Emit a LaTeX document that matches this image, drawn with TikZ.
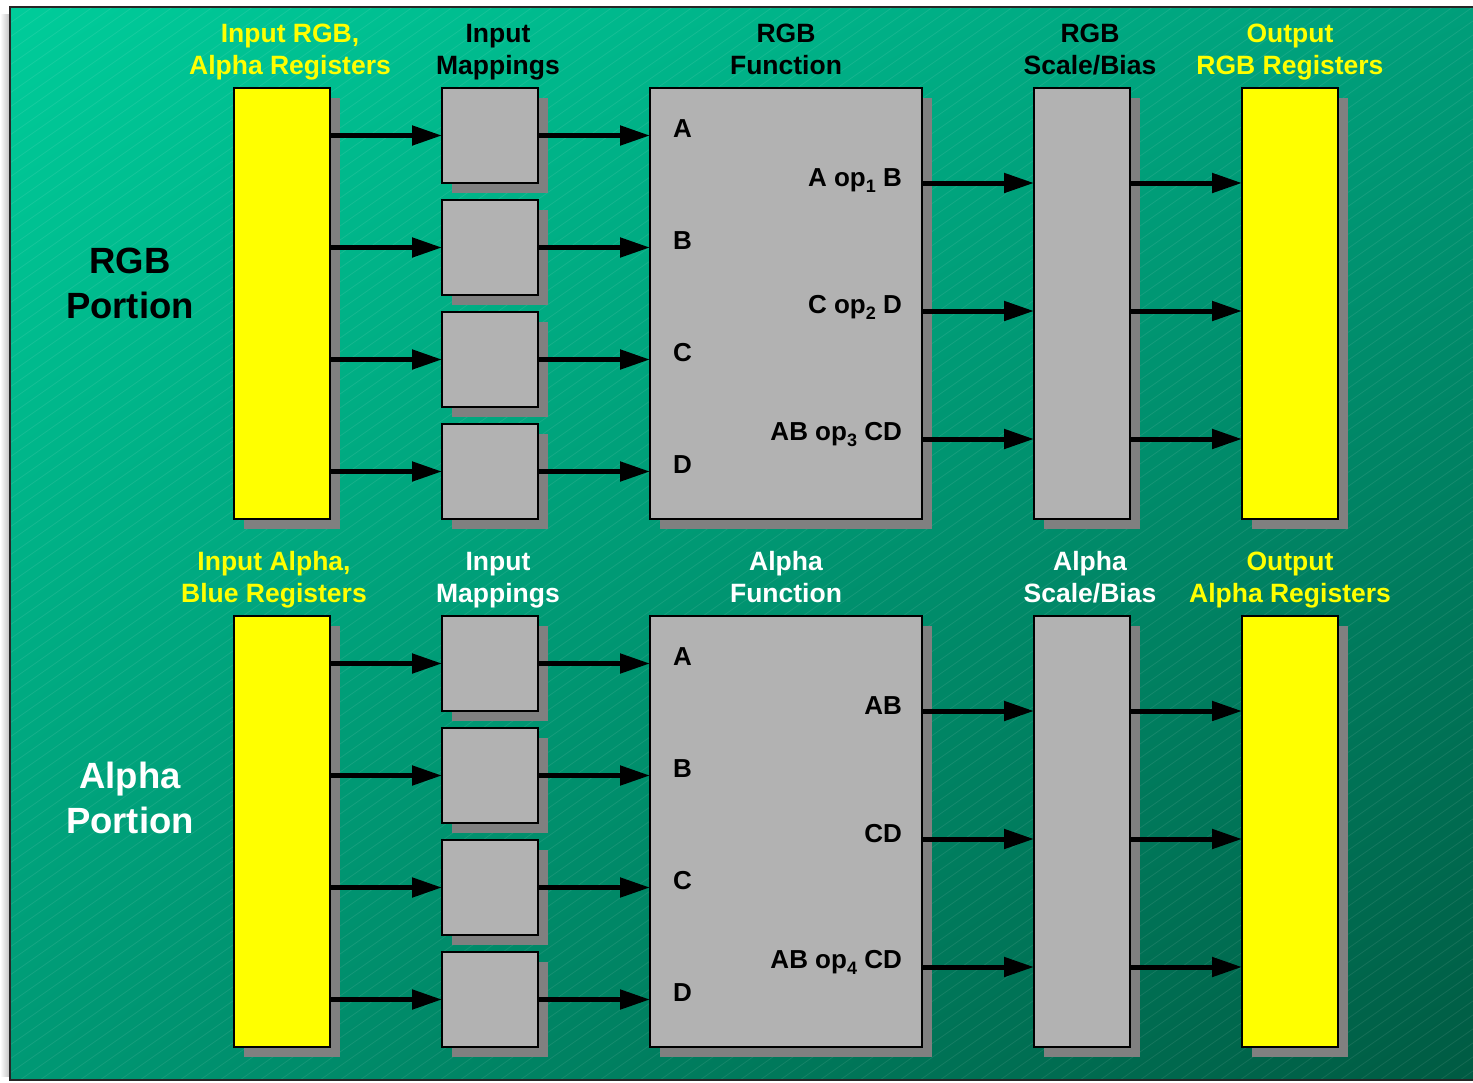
\documentclass[tikz,border=0pt]{standalone}
\usepackage{fontspec}
\setmainfont{Liberation Sans}
\usetikzlibrary{arrows.meta,shadows,shadings}
\definecolor{boxgray}{RGB}{178,178,178}
\definecolor{shgray}{RGB}{128,128,128}
\definecolor{ylw}{RGB}{255,255,0}
\definecolor{gUL}{RGB}{0,204,154}
\definecolor{gUR}{RGB}{0,158,122}
\definecolor{gLL}{RGB}{0,152,116}
\definecolor{gLR}{RGB}{0,90,66}
\newcommand{\hl}{\rule[-7pt]{0pt}{30pt}}
\newcommand{\opsub}[1]{\raisebox{-6pt}{\fontsize{18}{18}\selectfont #1}}
\begin{document}
\begin{tikzpicture}[x=1pt,y=-1pt,
  blk/.style={draw=black,line width=2pt,inner sep=0pt,outer sep=0pt,anchor=north west,
    drop shadow={shadow xshift=10pt,shadow yshift=-10pt,fill=shgray,opacity=1}},
  regbox/.style={blk,fill=ylw,minimum width=96pt,minimum height=431pt},
  mapbox/.style={blk,fill=boxgray,minimum width=96pt,minimum height=95pt},
  funbox/.style={blk,fill=boxgray,minimum width=272pt,minimum height=431pt},
  sclbox/.style={blk,fill=boxgray,minimum width=96pt,minimum height=431pt},
  arr/.style={line width=5pt,-{Triangle[length=30pt,width=19pt]}},
  hdr/.style={align=center,inner sep=0pt,anchor=north,font=\bfseries\fontsize{26.5}{32}\selectfont},
  big/.style={align=center,inner sep=0pt,font=\bfseries\fontsize{36.5}{45}\selectfont},
  inl/.style={inner sep=0pt,font=\bfseries\fontsize{26}{30}\selectfont},
]
\useasboundingbox (0,0) rectangle (1473,1082);
\fill[white] (0,0) rectangle (1473,1082);
\shade[left color=white,right color=gray!55] (0,14) rectangle (11,1076);
\shade[upper left=gUL,upper right=gUR,lower left=gLL,lower right=gLR] (10,7) rectangle (1480,1080);
\begin{scope}
  \clip (10,7) rectangle (1480,1080);
  \foreach \i in {-1600,-1580,...,1480}
    \draw[white,opacity=0.09,line width=0.7pt] (\i,1080) -- ++(1560,-1092);
\end{scope}
\draw[black!85,line width=1.5pt] (10,7) rectangle (1480,1080);

\foreach \s/\dy in {T/0,B/528}{
  \node[regbox] (in\s) at (234,88+\dy) {};
  \node[mapbox] (m\s1) at (442,88+\dy) {};
  \node[mapbox] (m\s2) at (442,200+\dy) {};
  \node[mapbox] (m\s3) at (442,312+\dy) {};
  \node[mapbox] (m\s4) at (442,424+\dy) {};
  \node[funbox] (f\s) at (650,88+\dy) {};
  \node[sclbox] (s\s) at (1034,88+\dy) {};
  \node[regbox] (o\s) at (1242,88+\dy) {};
  \foreach \k in {1,2,3,4}{
    \draw[arr] (in\s.east |- m\s\k) -- (m\s\k.west);
    \draw[arr] (m\s\k.east) -- (f\s.west |- m\s\k);
  }
  \coordinate (y\s1) at (0,183+\dy);
  \coordinate (y\s2) at (0,311+\dy);
  \coordinate (y\s3) at (0,439+\dy);
  \foreach \k in {1,2,3}{
    \draw[arr] (f\s.east |- y\s\k) -- (s\s.west |- y\s\k);
    \draw[arr] (s\s.east |- y\s\k) -- (o\s.west |- y\s\k);
  }
  \node[inl,anchor=base west] (la\s) at (673,137+\dy) {A};
  \node[inl,anchor=base west] (lb\s) at (673,249+\dy) {B};
  \node[inl,anchor=base west] (lc\s) at (673,361+\dy) {C};
  \node[inl,anchor=base west] (ld\s) at (673,473+\dy) {D};
}
\node[inl,anchor=base east] (r1) at (902,186) {A op\opsub{1} B};
\node[inl,anchor=base east] (r2) at (902,313) {C op\opsub{2} D};
\node[inl,anchor=base east] (r3) at (902,440) {AB op\opsub{3} CD};
\node[inl,anchor=base east] (r4) at (902,714) {AB};
\node[inl,anchor=base east] (r5) at (902,842) {CD};
\node[inl,anchor=base east] (r6) at (902,968) {AB op\opsub{4} CD};

\node[hdr,text=ylw] (h1) at (290,19) {Input RGB,\hl\\Alpha Registers\hl};
\node[hdr] (h2) at (498,19) {Input\hl\\Mappings\hl};
\node[hdr] (h3) at (786,19) {RGB\hl\\Function\hl};
\node[hdr] (h4) at (1090,19) {RGB\hl\\Scale/Bias\hl};
\node[hdr,text=ylw] (h5) at (1290,19) {Output\hl\\RGB Registers\hl};
\node[hdr,text=ylw] (h6) at (274,547) {Input Alpha,\hl\\Blue Registers\hl};
\node[hdr,text=white] (h7) at (498,547) {Input\hl\\Mappings\hl};
\node[hdr,text=white] (h8) at (786,547) {Alpha\hl\\Function\hl};
\node[hdr,text=white] (h9) at (1090,547) {Alpha\hl\\Scale/Bias\hl};
\node[hdr,text=ylw] (h10) at (1290,547) {Output\hl\\Alpha Registers\hl};

\node[big] (p1) at (130,283) {RGB\\Portion};
\node[big,text=white] (p2) at (130,798) {Alpha\\Portion};
\end{tikzpicture}
\end{document}
